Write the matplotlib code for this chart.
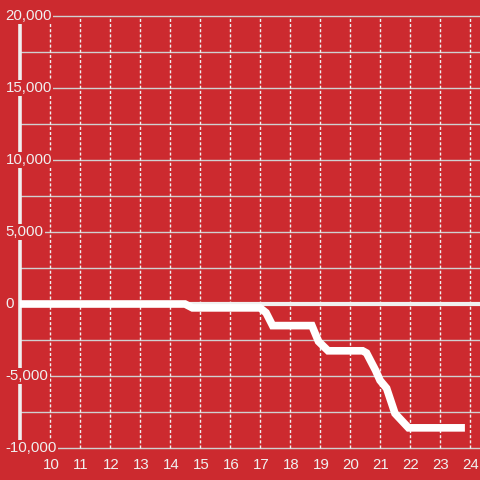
import matplotlib
matplotlib.use("Agg")
import matplotlib.pyplot as plt

# Data
hours = [9, 14.5, 14.75, 17.0, 17.2, 17.42, 18.73, 18.95, 19.27, 20.42, 20.55, 20.85, 21.0, 21.22, 21.5, 21.95, 23.83]
values = [0, 0, -270, -270, -600, -1500, -1500, -2600, -3250, -3250, -3400, -4600, -5300, -5850, -7600, -8600, -8600]
x_ticks = list(range(10, 25))
y_major = [-10000, -5000, 0, 5000, 10000, 15000, 20000]
y_minor = [-7500, -2500, 2500, 7500, 12500, 17500]

BG = "#CC2A2F"
WHITE = "#F0F0F0"
GRID = "#D0D0D0"

fig = plt.figure(figsize=(4.8, 4.8), dpi=100, facecolor=BG)
ax = fig.add_axes([0, 0, 1, 1])
ax.set_facecolor(BG)
ax.set_xlim(8.3333, 24.3333)
ax.set_ylim(-12222, 21111)
ax.axis("off")

# horizontal grid
ax.hlines(y_major + y_minor, 9, 24.3333, colors=GRID, linewidth=1.0, zorder=1)
# vertical dashed grid
ax.vlines(x_ticks, -10000, 20000, colors=WHITE, linewidth=1.0,
          linestyles=(0, (2.2, 1.5)), zorder=1)
# y axis line
ax.vlines([9], -10000, 20000, colors=WHITE, linewidth=2.6, zorder=2)
# zero line
ax.hlines([0], 9, 24.3333, colors=WHITE, linewidth=3, zorder=2)

# data line
ax.plot(hours, values, color="white", linewidth=5.5, solid_joinstyle="miter",
        solid_capstyle="butt", zorder=3)

font = dict(family=["Liberation Sans", "DejaVu Sans"], size=10.8, color=WHITE)
for v in y_major:
    ax.text(8.52, v, f"{v:,}", ha="left", va="center", zorder=5,
            bbox=dict(facecolor=BG, edgecolor="none", pad=1.0), **font)
for t in x_ticks:
    ax.text(t + 0.03, -11150, str(t), ha="center", va="center", zorder=5, **font)

fig.savefig("out.png", dpi=100, facecolor=BG)
